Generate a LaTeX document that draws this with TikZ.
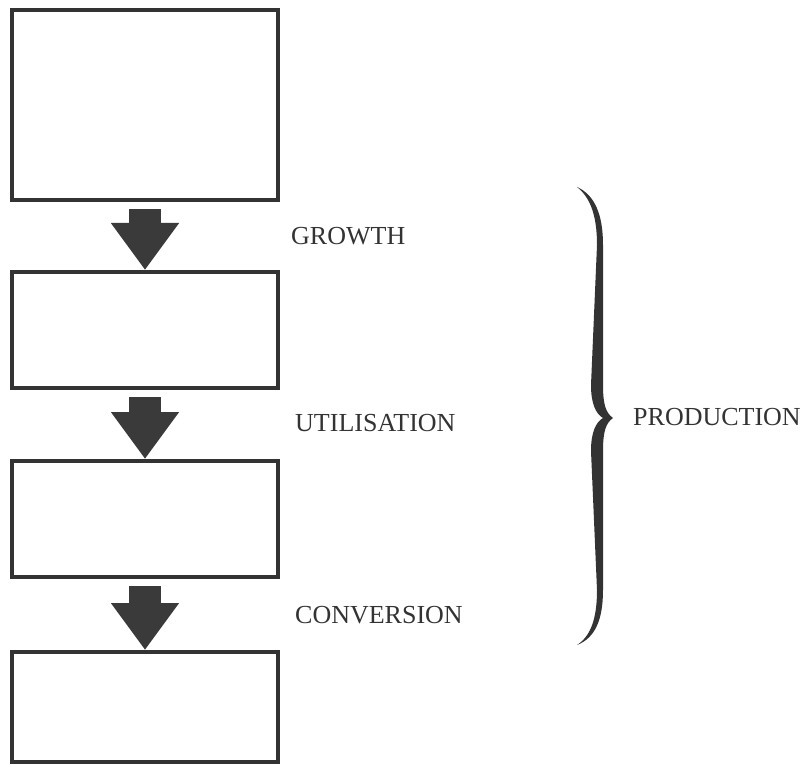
\documentclass[tikz,border=0pt]{standalone}
\usepackage{fontspec}
\setmainfont{Liberation Serif}
\usetikzlibrary{arrows.meta}

\definecolor{inkgray}{HTML}{333333}
\definecolor{arrowgray}{HTML}{3A3A3A}

\begin{document}
\begin{tikzpicture}[x=1pt, y=-1pt,
stagebox/.style={rectangle, draw=inkgray, line width=4pt, minimum width=266pt, inner sep=0pt},
flowarrow/.style={-{Triangle[length=47pt, width=65pt]}, line width=32pt, draw=arrowgray, shorten <=7pt},
steplabel/.style={anchor=west, inner sep=0pt, text=inkgray, font=\fontsize{26}{30}\selectfont}
]
\useasboundingbox (0,0) rectangle (803,767);

\node[stagebox, minimum height=190pt] at (145, 105) (b1) {};
\node[stagebox, minimum height=116pt] at (145, 330) (b2) {};
\node[stagebox, minimum height=116pt] at (145, 519) (b3) {};
\node[stagebox, minimum height=110pt] at (145, 707) (b4) {};

\draw[flowarrow] (b1.south) -- (b2.north);
\draw[flowarrow] (b2.south) -- (b3.north);
\draw[flowarrow] (b3.south) -- (b4.north);

\node[steplabel] at (291, 236) (growth) {GROWTH};
\node[steplabel] at (295, 423) (utilisation) {UTILISATION};
\node[steplabel] at (295, 615) (conversion) {CONVERSION};
\node[steplabel] at (633, 417) (production) {PRODUCTION};

% brace
\fill[inkgray] (577,187) .. controls (595,195) and (603,215) .. (603,245)
  -- (603,385) .. controls (603,405) and (606,413) .. (613,418)
  .. controls (606,423) and (603,431) .. (603,451)
  -- (603,590) .. controls (603,620) and (595,638) .. (577,645)
  .. controls (591,636) and (597,618) .. (597,590)
  -- (591,451) .. controls (591,432) and (596,422) .. (603,418)
  .. controls (596,414) and (591,404) .. (591,385)
  -- (597,245) .. controls (597,217) and (591,198) .. (577,187) -- cycle;
\end{tikzpicture}
\end{document}
